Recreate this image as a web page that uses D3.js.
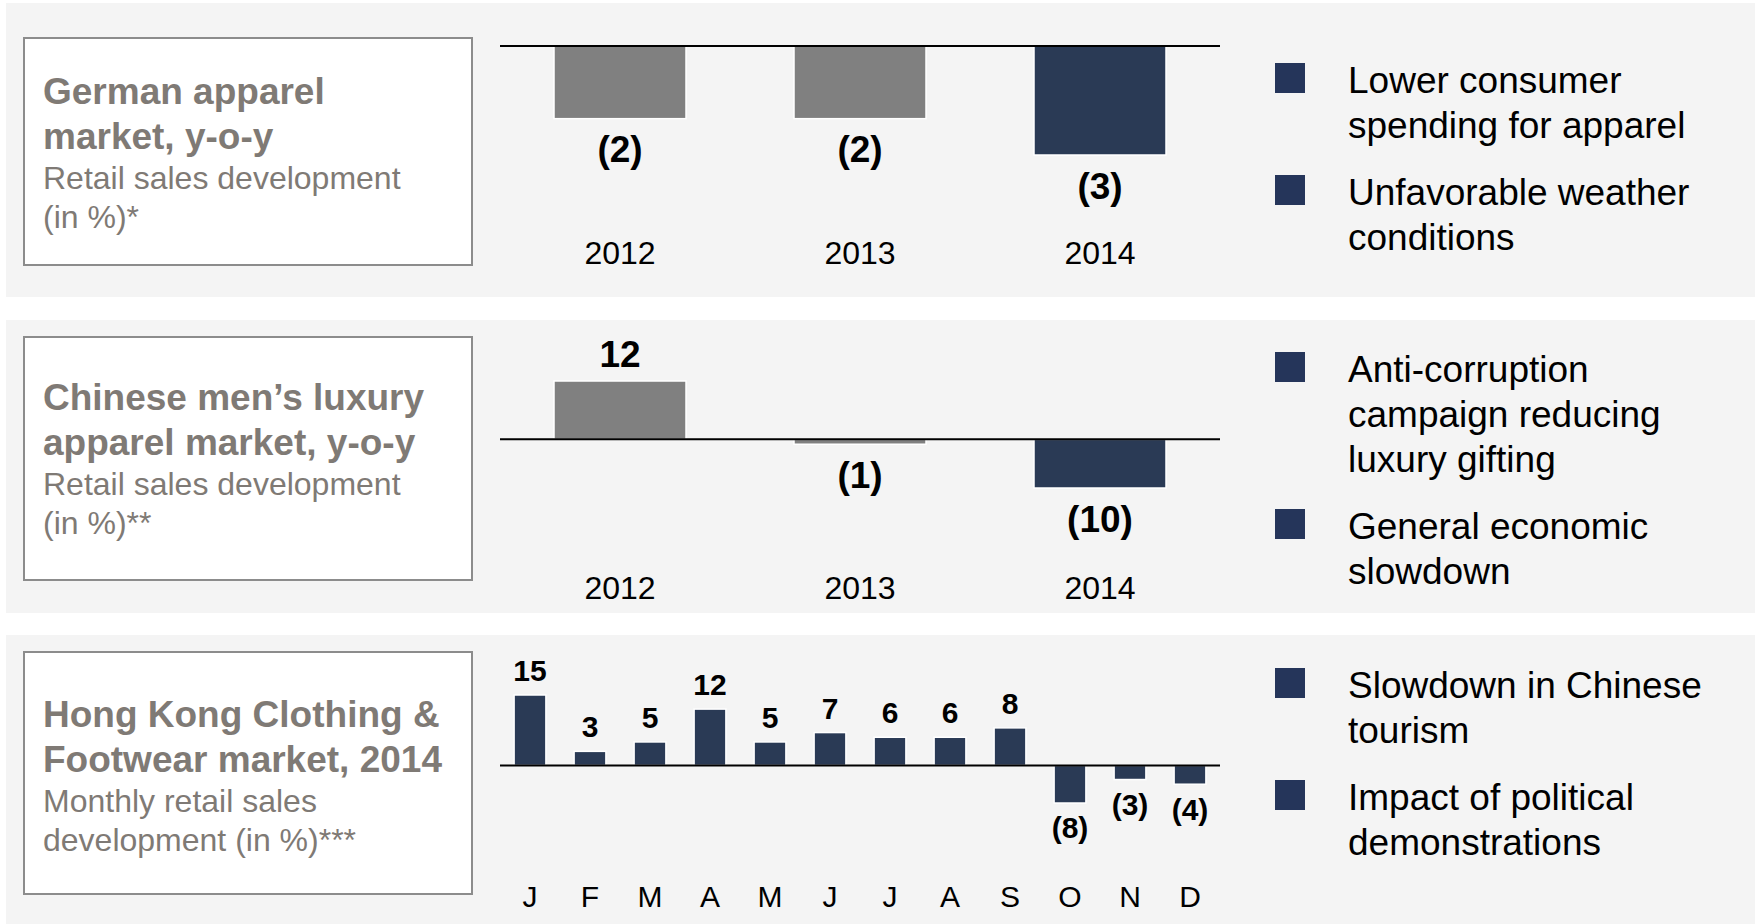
<!DOCTYPE html>
<html>
<head>
<meta charset="utf-8">
<script src="https://cdn.jsdelivr.net/npm/d3@7"></script>
<style>
  body { margin: 0; background: #fff; }
  svg { display: block; font-family: "Liberation Sans", Arial, sans-serif; }
</style>
</head>
<body>
<div id="chart"></div>
<script>
// ---- data ----
const years = ["2012", "2013", "2014"];
const germanValues = [-2, -2, -3];
const chineseValues = [12, -1, -10];
const months = ["J", "F", "M", "A", "M", "J", "J", "A", "S", "O", "N", "D"];
const hkValues = [15, 3, 5, 12, 5, 7, 6, 6, 8, -8, -3, -4];

const germanTitle = ["German apparel", "market, y-o-y"];
const germanSub = ["Retail sales development", "(in %)*"];
const chineseTitle = ["Chinese men\u2019s luxury", "apparel market, y-o-y"];
const chineseSub = ["Retail sales development", "(in %)**"];
const hkTitle = ["Hong Kong Clothing &", "Footwear market, 2014"];
const hkSub = ["Monthly retail sales", "development (in %)***"];

const germanReasons = [["Lower consumer", "spending for apparel"], ["Unfavorable weather", "conditions"]];
const chineseReasons = [["Anti-corruption", "campaign reducing", "luxury gifting"], ["General economic", "slowdown"]];
const hkReasons = [["Slowdown in Chinese", "tourism"], ["Impact of political", "demonstrations"]];

// ---- layout ----
const W = 1761, H = 924;
const navy = "#2a3a55", gray = "#808080", titleGray = "#7f7a75";

const svg = d3.select("#chart").append("svg").attr("width", W).attr("height", H);

const panels = [
  { top: 3, bottom: 297, box: [38, 265], titleY: 104, cats: years, vals: germanValues,
    title: germanTitle, sub: germanSub, reasons: germanReasons,
    yDomain: [0, -3], yRange: [46, 155], catY: 264, legendY: [63, 175],
    pad: 0.45, valFont: 37, catFont: 32, colorFn: (d, i) => i == 2 ? navy : gray },
  { top: 320, bottom: 613, box: [337, 580], titleY: 410, cats: years, vals: chineseValues,
    title: chineseTitle, sub: chineseSub, reasons: chineseReasons,
    yDomain: [12, -10], yRange: [381, 488], catY: 599, legendY: [352, 509],
    pad: 0.45, valFont: 37, catFont: 32, colorFn: (d, i) => i == 2 ? navy : gray },
  { top: 635, bottom: 924, box: [652, 894], titleY: 727, cats: months, vals: hkValues,
    title: hkTitle, sub: hkSub, reasons: hkReasons,
    yDomain: [15, -8], yRange: [695, 803], catY: 907, legendY: [668, 780],
    pad: 0.47, valFont: 30, catFont: 30, colorFn: () => navy }
];

const fmt = v => v < 0 ? "(" + Math.abs(v) + ")" : String(v);

panels.forEach(p => {
  let g = svg.append("g");

  // background
  g.append("rect")
    .attr("x", 6).attr("y", p.top)
    .attr("width", 1749).attr("height", p.bottom - p.top)
    .attr("fill", "#f4f4f4");

  // title box
  g.append("rect")
    .attr("x", 24).attr("y", p.box[0])
    .attr("width", 448).attr("height", p.box[1] - p.box[0])
    .attr("fill", "#fff").attr("stroke", "#8c8c8c").attr("stroke-width", 2);

  let offs = [0, 45, 85, 124];
  p.title.forEach((t, i) => {
    g.append("text").attr("x", 43).attr("y", p.titleY + offs[i])
      .attr("font-size", 37).attr("font-weight", "bold").attr("fill", titleGray).text(t);
  });
  p.sub.forEach((t, i) => {
    g.append("text").attr("x", 43).attr("y", p.titleY + offs[i + 2])
      .attr("font-size", 32).attr("fill", titleGray).text(t);
  });

  // chart
  let x = d3.scaleBand().domain(d3.range(p.cats.length)).range([500, 1220])
    .paddingInner(p.pad).paddingOuter(p.pad / 2);
  let y = d3.scaleLinear().domain(p.yDomain).range(p.yRange);

  g.selectAll(".bar").data(p.vals).enter().append("rect")
    .attr("x", (d, i) => x(i))
    .attr("y", d => y(Math.max(d, 0)))
    .attr("width", x.bandwidth())
    .attr("height", d => Math.abs(y(d) - y(0)))
    .attr("fill", p.colorFn)
    .attr("stroke", "#fff").attr("stroke-width", 1.5);

  g.append("line")
    .attr("x1", 500).attr("x2", 1220)
    .attr("y1", y(0)).attr("y2", y(0))
    .attr("stroke", "#000").attr("stroke-width", 2);

  g.selectAll(".val").data(p.vals).enter().append("text")
    .attr("x", (d, i) => x(i) + x.bandwidth() / 2)
    .attr("y", d => d >= 0 ? y(d) - 14 : y(d) + p.valFont * 1.18)
    .attr("text-anchor", "middle")
    .attr("font-size", p.valFont).attr("font-weight", "bold")
    .text(fmt);

  // category labels
  let xAxis = d3.axisBottom(x).tickSize(0).tickFormat(i => p.cats[i]);
  let ax = g.append("g").attr("transform", "translate(0," + p.catY + ")").call(xAxis);
  ax.select(".domain").remove();
  ax.selectAll("text")
    .attr("y", 0).attr("dy", 0)
    .attr("font-size", p.catFont).attr("font-family", "Liberation Sans, Arial, sans-serif")
    .attr("fill", "#000");

  // legend / reasons
  p.reasons.forEach((lines, k) => {
    let sy = p.legendY[k];
    g.append("rect").attr("x", 1275).attr("y", sy)
      .attr("width", 30).attr("height", 30).attr("fill", "#25355a");
    lines.forEach((t, j) => {
      g.append("text").attr("x", 1348).attr("y", sy + 30 + j * 45)
        .attr("font-size", 37).attr("fill", "#000").text(t);
    });
  });
});
</script>
</body>
</html>
